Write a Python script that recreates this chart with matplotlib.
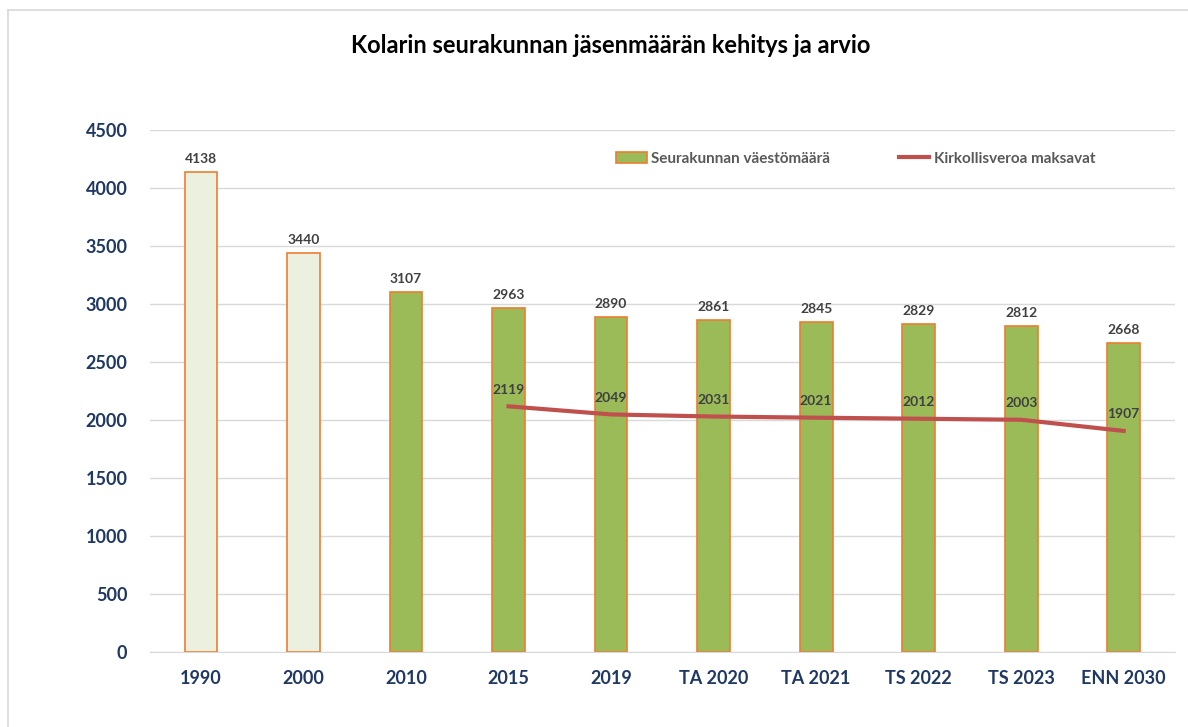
import matplotlib
matplotlib.use("Agg")
import matplotlib.pyplot as plt
from matplotlib.patches import Patch
from matplotlib.lines import Line2D
import numpy as np

plt.rcParams['font.family'] = ['Lato', 'DejaVu Sans']

categories = ["1990", "2000", "2010", "2015", "2019", "TA 2020", "TA 2021", "TS 2022", "TS 2023", "ENN 2030"]
population = [4138, 3440, 3107, 2963, 2890, 2861, 2845, 2829, 2812, 2668]
taxpayers = [None, None, None, 2119, 2049, 2031, 2021, 2012, 2003, 1907]
title = "Kolarin seurakunnan jäsenmäärän kehitys ja arvio"
legend_bar = "Seurakunnan väestömäärä"
legend_line = "Kirkollisveroa maksavat"

fig = plt.figure(figsize=(11.88, 7.27), dpi=100)
ax = fig.add_axes([0.126, 0.103, 0.863, 0.718])

# chart border (top and left edges visible)
W, H = 1188, 727
fig.add_artist(Line2D([7.5 / W, 7.5 / W], [0, 1 - 9.5 / H], color="#D9D9D9", linewidth=1.2, transform=fig.transFigure))
fig.add_artist(Line2D([7.5 / W, 1], [1 - 9.5 / H, 1 - 9.5 / H], color="#D9D9D9", linewidth=1.2, transform=fig.transFigure))

x = np.arange(len(categories))
colors = ["#EBF1DE" if i < 2 else "#9BBB59" for i in range(len(categories))]
ax.bar(x, population, width=0.32, color=colors, edgecolor="#ED7D31", linewidth=1.2, zorder=2)

for xi, v in zip(x, population):
    ax.text(xi, v + 60, str(v), ha="center", va="bottom", fontsize=10, fontweight="bold", color="#404040")

lx = [xi for xi, t in zip(x, taxpayers) if t is not None]
ly = [t for t in taxpayers if t is not None]
ax.plot(lx, ly, color="#C0504D", linewidth=3, zorder=3)
for xi, v in zip(lx, ly):
    ax.text(xi, v + 90, str(v), ha="center", va="bottom", fontsize=10, fontweight="bold", color="#404040", zorder=4)

ax.set_xlim(-0.5, len(categories) - 0.5)
ax.set_ylim(0, 4500)
ax.set_yticks(np.arange(0, 4501, 500))
ax.set_xticks(x)
ax.set_xticklabels(categories)
ax.yaxis.grid(True, color="#D9D9D9", linewidth=1, zorder=0)
ax.set_axisbelow(True)
for s in ["top", "right", "left"]:
    ax.spines[s].set_visible(False)
ax.spines["bottom"].set_color("#D9D9D9")
ax.tick_params(axis="both", length=0, labelsize=13, labelcolor="#1F3864")
ax.tick_params(axis="x", pad=13)
ax.tick_params(axis="y", pad=16)
for lab in ax.get_xticklabels() + ax.get_yticklabels():
    lab.set_fontweight("bold")

handles = [Patch(facecolor="#9BBB59", edgecolor="#ED7D31", linewidth=1.2),
           Line2D([0], [0], color="#C0504D", linewidth=3)]
leg = ax.legend(handles, [legend_bar, legend_line], loc="upper right", bbox_to_anchor=(0.936, 0.985),
                ncol=2, frameon=False, fontsize=11, columnspacing=4.5, handlelength=2.0, handletextpad=0.3)
for t in leg.get_texts():
    t.set_color("#595959")
    t.set_fontweight("bold")

fig.text(0.514, 0.938, title, ha="center", va="center", fontsize=17, fontweight="bold", color="black")

fig.savefig("out.png", dpi=100)
